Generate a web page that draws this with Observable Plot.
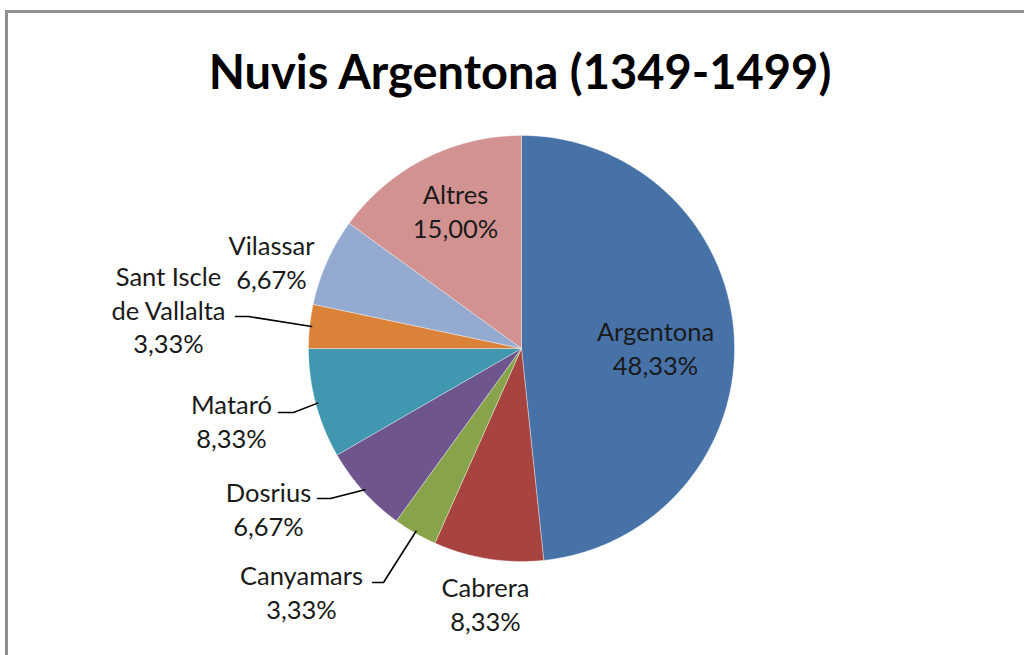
<!DOCTYPE html>
<html>
<head>
<meta charset="utf-8">
<script src="https://cdn.jsdelivr.net/npm/d3@7"></script>
<script src="https://cdn.jsdelivr.net/npm/@observablehq/plot@0.6"></script>
<style>
  html, body { margin: 0; padding: 0; background: #fff; }
  #wrap { position: relative; width: 1024px; height: 655px; overflow: hidden; background: #fff; font-family: Lato, "Open Sans", sans-serif; }
  #frame { position: absolute; left: 5px; top: 10px; width: 1100px; height: 800px; border-left: 3px solid #909090; border-top: 3px solid #909090; box-sizing: border-box; }
  #title { position: absolute; left: 0; top: 48px; width: 1040px; text-align: center; font-family: Lato, sans-serif; font-weight: bold; font-size: 47px; line-height: 47px; color: #000; margin: 0; white-space: nowrap; }
  #chart { position: absolute; left: 0; top: 110px; }
</style>
</head>
<body>
<div id="wrap">
  <div id="frame"></div>
  <h1 id="title">Nuvis Argentona (1349-1499)</h1>
  <div id="chart"></div>
</div>
<script>
// ---- Data ----
const categories = ["Argentona", "Cabrera", "Canyamars", "Dosrius", "Mataró", "Sant Iscle\nde Vallalta", "Vilassar", "Altres"];
const shares = [48.33, 8.33, 3.33, 6.67, 8.33, 3.33, 6.67, 15.00];
const colors = ["#4672A8", "#A8443F", "#87A44B", "#6F558E", "#4097AF", "#DA8238", "#95AAD1", "#D29291"];

// ---- Layout (page pixel coordinates) ----
const TOP = 110;               // height of title area above the svg
const W = 1024, H = 655 - TOP;
const cx = 521, cy = 348, R = 213;
const labelX = [655, 485, 301, 268, 231, 168, 271, 455];
const labelY = [347, 603, 591, 508, 420, 308.5, 261, 209.5];
// leader lines: [startX, startY, elbowX] (null = no leader)
const leaders = [null, null, [372, 582, 383], [317, 498, 330], [278, 412, 293], [235, 316, 248], null, null];

// ---- Build slices ----
const pie = d3.pie().sort(null).value(d => d)(shares);
const slicePts = [];
pie.forEach((p, i) => {
  const name = categories[i];
  const a0 = p.startAngle, a1 = p.endAngle;
  const n = Math.max(2, Math.ceil((a1 - a0) / (Math.PI / 360)));
  slicePts.push({name, x: cx, y: cy - TOP});
  for (let k = 0; k <= n; k++) {
    const a = a0 + (a1 - a0) * k / n;
    slicePts.push({name, x: cx + R * Math.sin(a), y: cy - TOP - R * Math.cos(a)});
  }
  slicePts.push({name, x: cx, y: cy - TOP});
});

const fmt = v => d3.format(".2f")(v).replace(".", ",") + "%";
const labels = categories.map((c, i) => ({
  name: c,
  text: c + "\n" + fmt(shares[i]),
  x: labelX[i],
  y: labelY[i] - TOP
}));

const leaderPts = [];
leaders.forEach((l, i) => {
  if (!l) return;
  const p = pie[i];
  const a = (p.startAngle + p.endAngle) / 2;
  leaderPts.push({k: i, x: l[0], y: l[1] - TOP});
  leaderPts.push({k: i, x: l[2], y: l[1] - TOP});
  leaderPts.push({k: i, x: cx + (R - 2) * Math.sin(a), y: cy - TOP - (R - 2) * Math.cos(a)});
});

const chart = Plot.plot({
  width: W,
  height: H,
  margin: 0,
  style: {background: "transparent", overflow: "visible"},
  x: {domain: [0, W], range: [0, W], axis: null},
  y: {domain: [0, H], range: [0, H], axis: null},
  color: {domain: categories, range: colors},
  marks: [
    Plot.line(slicePts, {x: "x", y: "y", z: "name", fill: "name", stroke: "#ffffff", strokeWidth: 0.6, strokeOpacity: 0.6, curve: "linear"}),
    Plot.line(leaderPts, {x: "x", y: "y", z: "k", stroke: "#000000", strokeWidth: 1.6, curve: "linear"}),
    Plot.text(labels, {x: "x", y: "y", text: "text", fontSize: 25.5, lineHeight: 1.32, lineAnchor: "middle", textAnchor: "middle", fill: "#1a1a1a", fontFamily: "Lato, sans-serif"})
  ]
});
document.getElementById("chart").appendChild(chart);
</script>
</body>
</html>
